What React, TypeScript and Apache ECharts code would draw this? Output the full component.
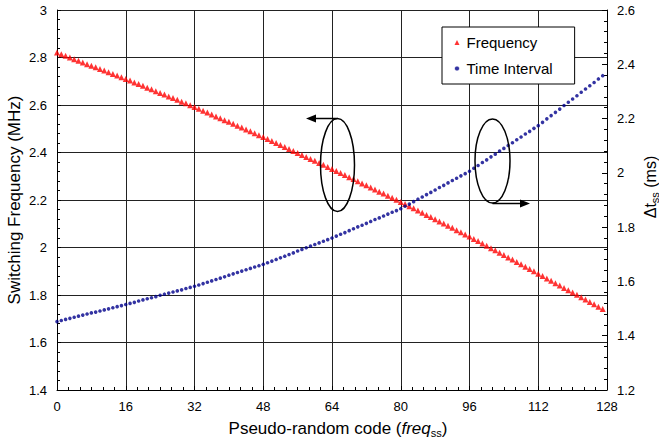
import React, { useEffect, useRef } from "react";
import * as echarts from "echarts";

// Switching frequency (MHz) for each pseudo-random code 0..127
const frequency: number[] = [
  2.821, 2.814, 2.807, 2.800, 2.793, 2.786, 2.779, 2.772, 2.765, 2.759, 2.752, 2.745, 2.738, 2.731, 2.724, 2.717,
  2.710, 2.703, 2.695, 2.688, 2.681, 2.673, 2.666, 2.658, 2.651, 2.644, 2.636, 2.629, 2.622, 2.614, 2.607, 2.599,
  2.592, 2.584, 2.576, 2.568, 2.560, 2.552, 2.544, 2.536, 2.529, 2.521, 2.513, 2.505, 2.497, 2.489, 2.481, 2.473,
  2.465, 2.457, 2.448, 2.440, 2.432, 2.423, 2.415, 2.406, 2.398, 2.390, 2.381, 2.373, 2.365, 2.356, 2.348, 2.339,
  2.331, 2.322, 2.314, 2.305, 2.296, 2.288, 2.279, 2.270, 2.262, 2.253, 2.244, 2.235, 2.227, 2.218, 2.209, 2.201,
  2.192, 2.183, 2.174, 2.165, 2.156, 2.146, 2.137, 2.128, 2.119, 2.110, 2.101, 2.092, 2.083, 2.073, 2.064, 2.055,
  2.046, 2.036, 2.027, 2.017, 2.007, 1.997, 1.988, 1.978, 1.968, 1.958, 1.949, 1.939, 1.929, 1.919, 1.910, 1.900,
  1.890, 1.880, 1.870, 1.860, 1.850, 1.840, 1.830, 1.820, 1.811, 1.801, 1.791, 1.781, 1.771, 1.761, 1.751, 1.741,
];

// Time interval Δt_ss (ms) for each pseudo-random code 0..127
const timeInterval: number[] = [
  1.452, 1.456, 1.460, 1.464, 1.468, 1.472, 1.476, 1.480, 1.484, 1.487, 1.491, 1.495, 1.499, 1.503, 1.507, 1.511,
  1.515, 1.519, 1.523, 1.528, 1.532, 1.536, 1.540, 1.544, 1.549, 1.553, 1.557, 1.561, 1.565, 1.569, 1.574, 1.578,
  1.582, 1.587, 1.592, 1.597, 1.602, 1.607, 1.612, 1.617, 1.623, 1.628, 1.633, 1.638, 1.643, 1.648, 1.653, 1.658,
  1.663, 1.669, 1.675, 1.681, 1.687, 1.693, 1.699, 1.705, 1.712, 1.718, 1.724, 1.730, 1.736, 1.742, 1.748, 1.754,
  1.760, 1.767, 1.774, 1.780, 1.787, 1.794, 1.801, 1.807, 1.814, 1.821, 1.828, 1.834, 1.841, 1.848, 1.855, 1.861,
  1.868, 1.877, 1.885, 1.894, 1.903, 1.911, 1.920, 1.928, 1.937, 1.946, 1.954, 1.963, 1.972, 1.980, 1.989, 1.997,
  2.006, 2.017, 2.027, 2.038, 2.048, 2.059, 2.069, 2.080, 2.090, 2.101, 2.111, 2.122, 2.132, 2.143, 2.153, 2.164,
  2.174, 2.186, 2.199, 2.211, 2.223, 2.235, 2.248, 2.260, 2.272, 2.284, 2.297, 2.309, 2.321, 2.333, 2.346, 2.358,
];

const seriesNames = ["Frequency", "Time Interval"];

const FONT = "'Liberation Sans', Arial, sans-serif";
const INK = "#000";

export default function App() {
  const ref = useRef<HTMLDivElement>(null);

  useEffect(() => {
    if (!ref.current) return;
    const chart = echarts.init(ref.current, undefined, { renderer: "svg" });

    const freqData = frequency.map((v, i) => [i, v]);
    const timeData = timeInterval.map((v, i) => [i, v]);

    const tickLabel = { color: INK, fontFamily: FONT, fontSize: 13 };
    const titleRich = {
      a: { fontFamily: FONT, fontSize: 17, color: INK, lineHeight: 20 },
      i: { fontFamily: FONT, fontSize: 17, color: INK, fontStyle: "italic", lineHeight: 20 },
      s: { fontFamily: FONT, fontSize: 11, color: INK, lineHeight: 11, verticalAlign: "bottom" },
    };

    chart.setOption({
      animation: false,
      backgroundColor: "#fff",
      grid: { left: 57, right: 52, top: 10, bottom: 53, containLabel: false, outerBoundsMode: "none" },
      legend: {
        orient: "vertical",
        left: 442,
        top: 27,
        padding: [8, 22, 8, 12],
        itemGap: 11,
        itemWidth: 5,
        itemHeight: 5,
        backgroundColor: "#fff",
        borderColor: INK,
        borderWidth: 1,
        textStyle: { color: INK, fontFamily: FONT, fontSize: 15, padding: [0, 0, 0, 2] },
        data: [
          { name: seriesNames[0], icon: "triangle" },
          { name: seriesNames[1], icon: "circle", itemStyle: { borderColor: "#fff", borderWidth: 1 } },
        ],
      },
      xAxis: {
        type: "value",
        min: 0,
        max: 128,
        interval: 16,
        name: "{a|Pseudo-random code (}{i|freq}{s|ss}{a|)}",
        nameLocation: "middle",
        nameGap: 28,
        nameMoveOverlap: false,
        nameTextStyle: { rich: titleRich, padding: [0, 0, 0, 12] },
        axisLine: { show: true, lineStyle: { color: INK, width: 1 } },
        axisTick: { show: true, inside: true, length: 4, lineStyle: { color: INK } },
        minorTick: { show: true, splitNumber: 6, length: 3, lineStyle: { color: INK } },
        axisLabel: { ...tickLabel, margin: 10 },
        splitLine: { show: true, lineStyle: { color: "#222", width: 1 } },
      },
      yAxis: [
        {
          type: "value",
          position: "left",
          min: 1.4,
          max: 3,
          interval: 0.2,
          name: "Switching Frequency (MHz)",
          nameLocation: "middle",
          nameRotate: 90,
          nameGap: 34,
          nameMoveOverlap: false,
          nameTextStyle: { color: INK, fontFamily: FONT, fontSize: 17 },
          axisLine: { show: true, lineStyle: { color: INK, width: 1 } },
          axisTick: { show: true, inside: true, length: 4, lineStyle: { color: INK } },
          minorTick: { show: true, splitNumber: 5, length: 3, lineStyle: { color: INK } },
          axisLabel: { ...tickLabel, margin: 10, formatter: (v: number) => String(+v.toFixed(1)) },
          splitLine: { show: true, lineStyle: { color: "#222", width: 1 } },
        },
        {
          type: "value",
          position: "right",
          min: 1.2,
          max: 2.6,
          interval: 0.2,
          name: "{a|Δt}{s|ss}{a| (ms)}",
          nameLocation: "middle",
          nameRotate: 90,
          nameGap: 33,
          nameMoveOverlap: false,
          nameTextStyle: { rich: { ...titleRich, a: { ...titleRich.a, fontSize: 16 } }, padding: [0, 0, 0, 26] },
          axisLine: { show: true, lineStyle: { color: INK, width: 1 } },
          axisTick: { show: true, inside: true, length: 5, lineStyle: { color: INK } },
          minorTick: { show: true, splitNumber: 5, length: 3, lineStyle: { color: INK } },
          axisLabel: { ...tickLabel, margin: 10, formatter: (v: number) => String(+v.toFixed(1)) },
          splitLine: { show: false },
        },
      ],
      series: [
        {
          name: seriesNames[0],
          type: "scatter",
          yAxisIndex: 0,
          symbol: "triangle",
          symbolSize: [6, 6],
          itemStyle: { color: "#ff0000" },
          data: freqData,
          z: 3,
        },
        {
          name: seriesNames[1],
          type: "scatter",
          yAxisIndex: 1,
          symbol: "circle",
          symbolSize: 3.6,
          itemStyle: { color: "#00008b" },
          data: timeData,
          z: 4,
        },
      ],
      graphic: [
        // ellipse marking the frequency curve, with an arrow toward the left axis
        {
          type: "ellipse",
          shape: { cx: 337.5, cy: 165, rx: 17, ry: 46.5 },
          style: { fill: "none", stroke: INK, lineWidth: 1.5 },
          z: 10,
        },
        {
          type: "line",
          shape: { x1: 337.5, y1: 118.5, x2: 314, y2: 118.5 },
          style: { stroke: INK, lineWidth: 1.5 },
          z: 10,
        },
        {
          type: "polygon",
          shape: { points: [[306, 118.5], [316, 114.5], [316, 122.5]] },
          style: { fill: INK },
          z: 10,
        },
        // ellipse marking the time-interval curve, with an arrow toward the right axis
        {
          type: "ellipse",
          shape: { cx: 492.5, cy: 161, rx: 17.5, ry: 42 },
          style: { fill: "none", stroke: INK, lineWidth: 1.5 },
          z: 10,
        },
        {
          type: "line",
          shape: { x1: 492.5, y1: 203.5, x2: 521, y2: 203.5 },
          style: { stroke: INK, lineWidth: 1.5 },
          z: 10,
        },
        {
          type: "polygon",
          shape: { points: [[530, 203.5], [520, 199.5], [520, 207.5]] },
          style: { fill: INK },
          z: 10,
        },
      ],
    });

    return () => chart.dispose();
  }, []);

  return <div ref={ref} style={{ width: 659, height: 443, position: "absolute", left: 0, top: 0 }} />;
}
